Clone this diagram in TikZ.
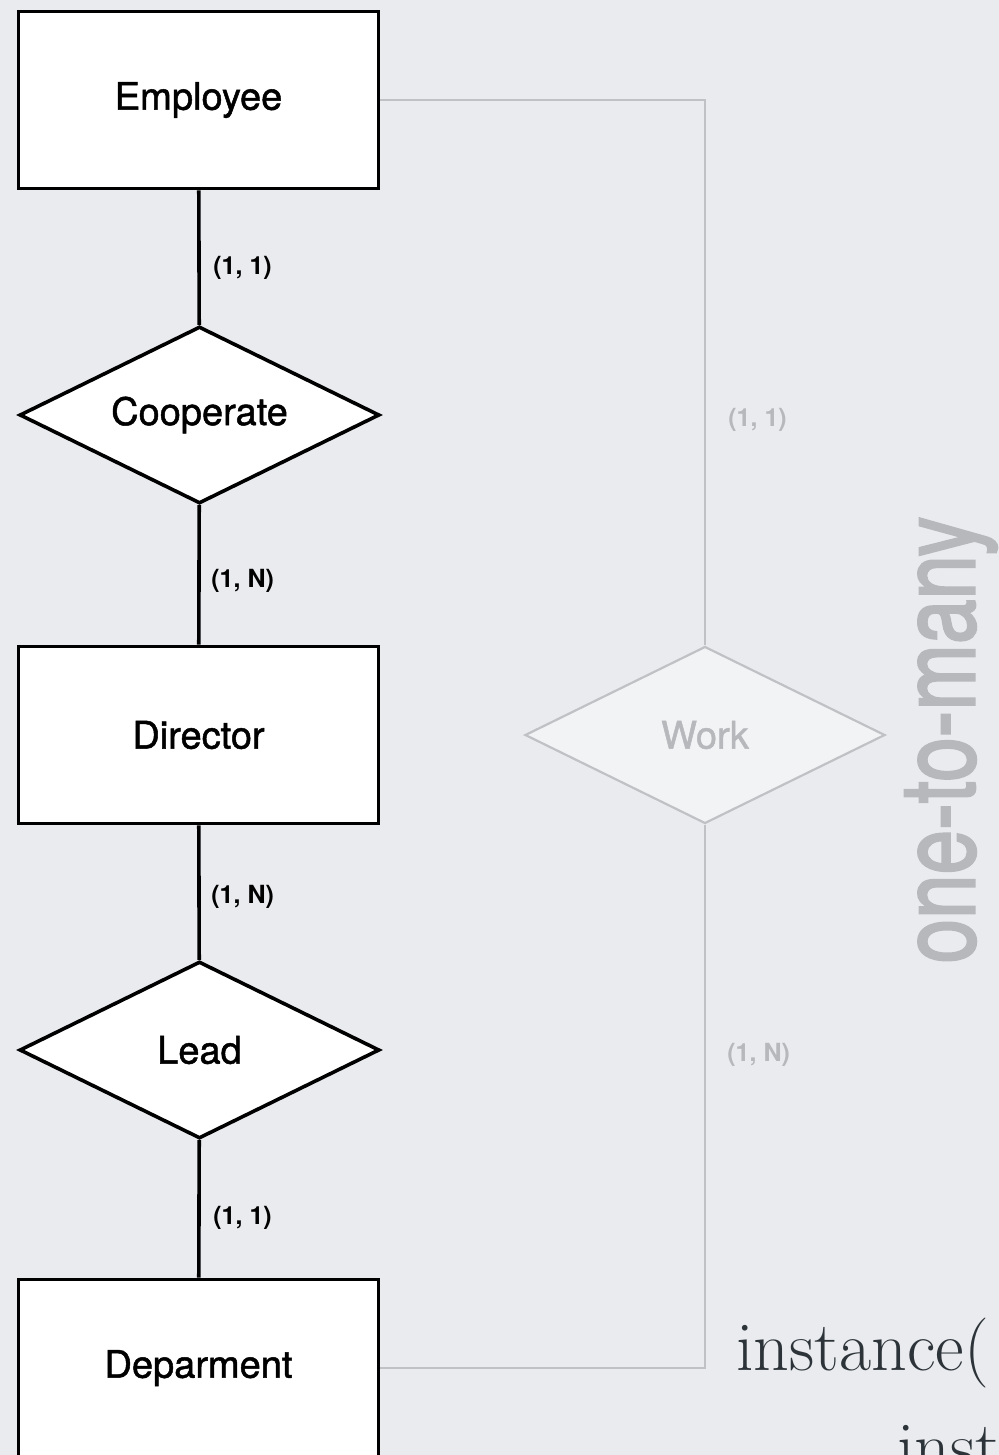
\documentclass[tikz,border=0pt]{standalone}
\usepackage{fontspec}
\setsansfont{TeX Gyre Heros}
\newfontfamily\medsans[FakeBold=1.3]{TeX Gyre Heros}
\newfontfamily\heavysans[FakeBold=2.5]{TeX Gyre Heros}
\usetikzlibrary{shapes.geometric}

\definecolor{bgcol}{RGB}{233,235,239}
\definecolor{fadeline}{RGB}{192,193,197}
\definecolor{fadetext}{RGB}{183,184,188}
\definecolor{mathcol}{RGB}{45,52,57}

\tikzset{
  entity/.style={draw=black, line width=1.8pt, fill=white, minimum width=180pt, minimum height=88.5pt, inner sep=0pt, font=\medsans\fontsize{19}{22}\selectfont},
  relation/.style={diamond, aspect=2, draw=black, line width=1.8pt, fill=white, minimum width=180pt, minimum height=88.5pt, inner sep=0pt, font=\medsans\fontsize{19}{22}\selectfont},
  card/.style={anchor=west, inner sep=0pt, font=\sffamily\bfseries\fontsize{12.5}{14}\selectfont},
}

\begin{document}
\begin{tikzpicture}[x=0.5pt, y=-0.5pt]
\fill[bgcol] (0,0) rectangle (999,1455);
\clip (0,0) rectangle (999,1455);

% left column
\node[entity] (employee) at (198.5, 100) {Employee};
\node[relation] (cooperate) at (199.5, 415) {Cooperate};
\node[entity] (director) at (198.5, 735) {Director};
\node[relation] (lead) at (199.5, 1050) {Lead};
\node[entity] (department) at (198.5, 1368) {Deparment};

\node[card] (c_emp) at (213, 268) {(1, 1)};
\node[card] (c_dir_up) at (211, 581) {(1, N)};
\node[card] (c_dir_down) at (211, 897) {(1, N)};
\node[card] (c_dep) at (213, 1218) {(1, 1)};

\draw[line width=1.8pt] (employee) -- (cooperate);
\draw[line width=1.8pt] (cooperate) -- (director);
\draw[line width=1.8pt] (director) -- (lead);
\draw[line width=1.8pt] (lead) -- (department);

% faded relation on the right
\node[relation, draw=fadeline, line width=1.1pt, fill=bgcol!60!white, text=fadetext] (work) at (705, 735) {Work};
\node[card, text=fadetext] (c_work_up) at (728, 420) {(1, 1)};
\node[card, text=fadetext] (c_work_down) at (727, 1055) {(1, N)};

\draw[fadeline, line width=1.1pt] (employee.east) -| (work.north);
\draw[fadeline, line width=1.1pt] (work.south) |- (department.east);

\node[rotate=90, text=fadetext, font=\heavysans\fontsize{40}{44}\selectfont] (kind) at (951, 740) {\scalebox{1}[1.3]{one-to-many}};

\node[anchor=base west, inner sep=0pt, text=mathcol, font=\rmfamily\fontsize{35}{40}\selectfont] (inst_a) at (736, 1370) {instance(};
\node[anchor=base west, inner sep=0pt, text=mathcol, font=\rmfamily\fontsize{35}{40}\selectfont] (inst_b) at (897, 1470) {inst};

\end{tikzpicture}
\end{document}
